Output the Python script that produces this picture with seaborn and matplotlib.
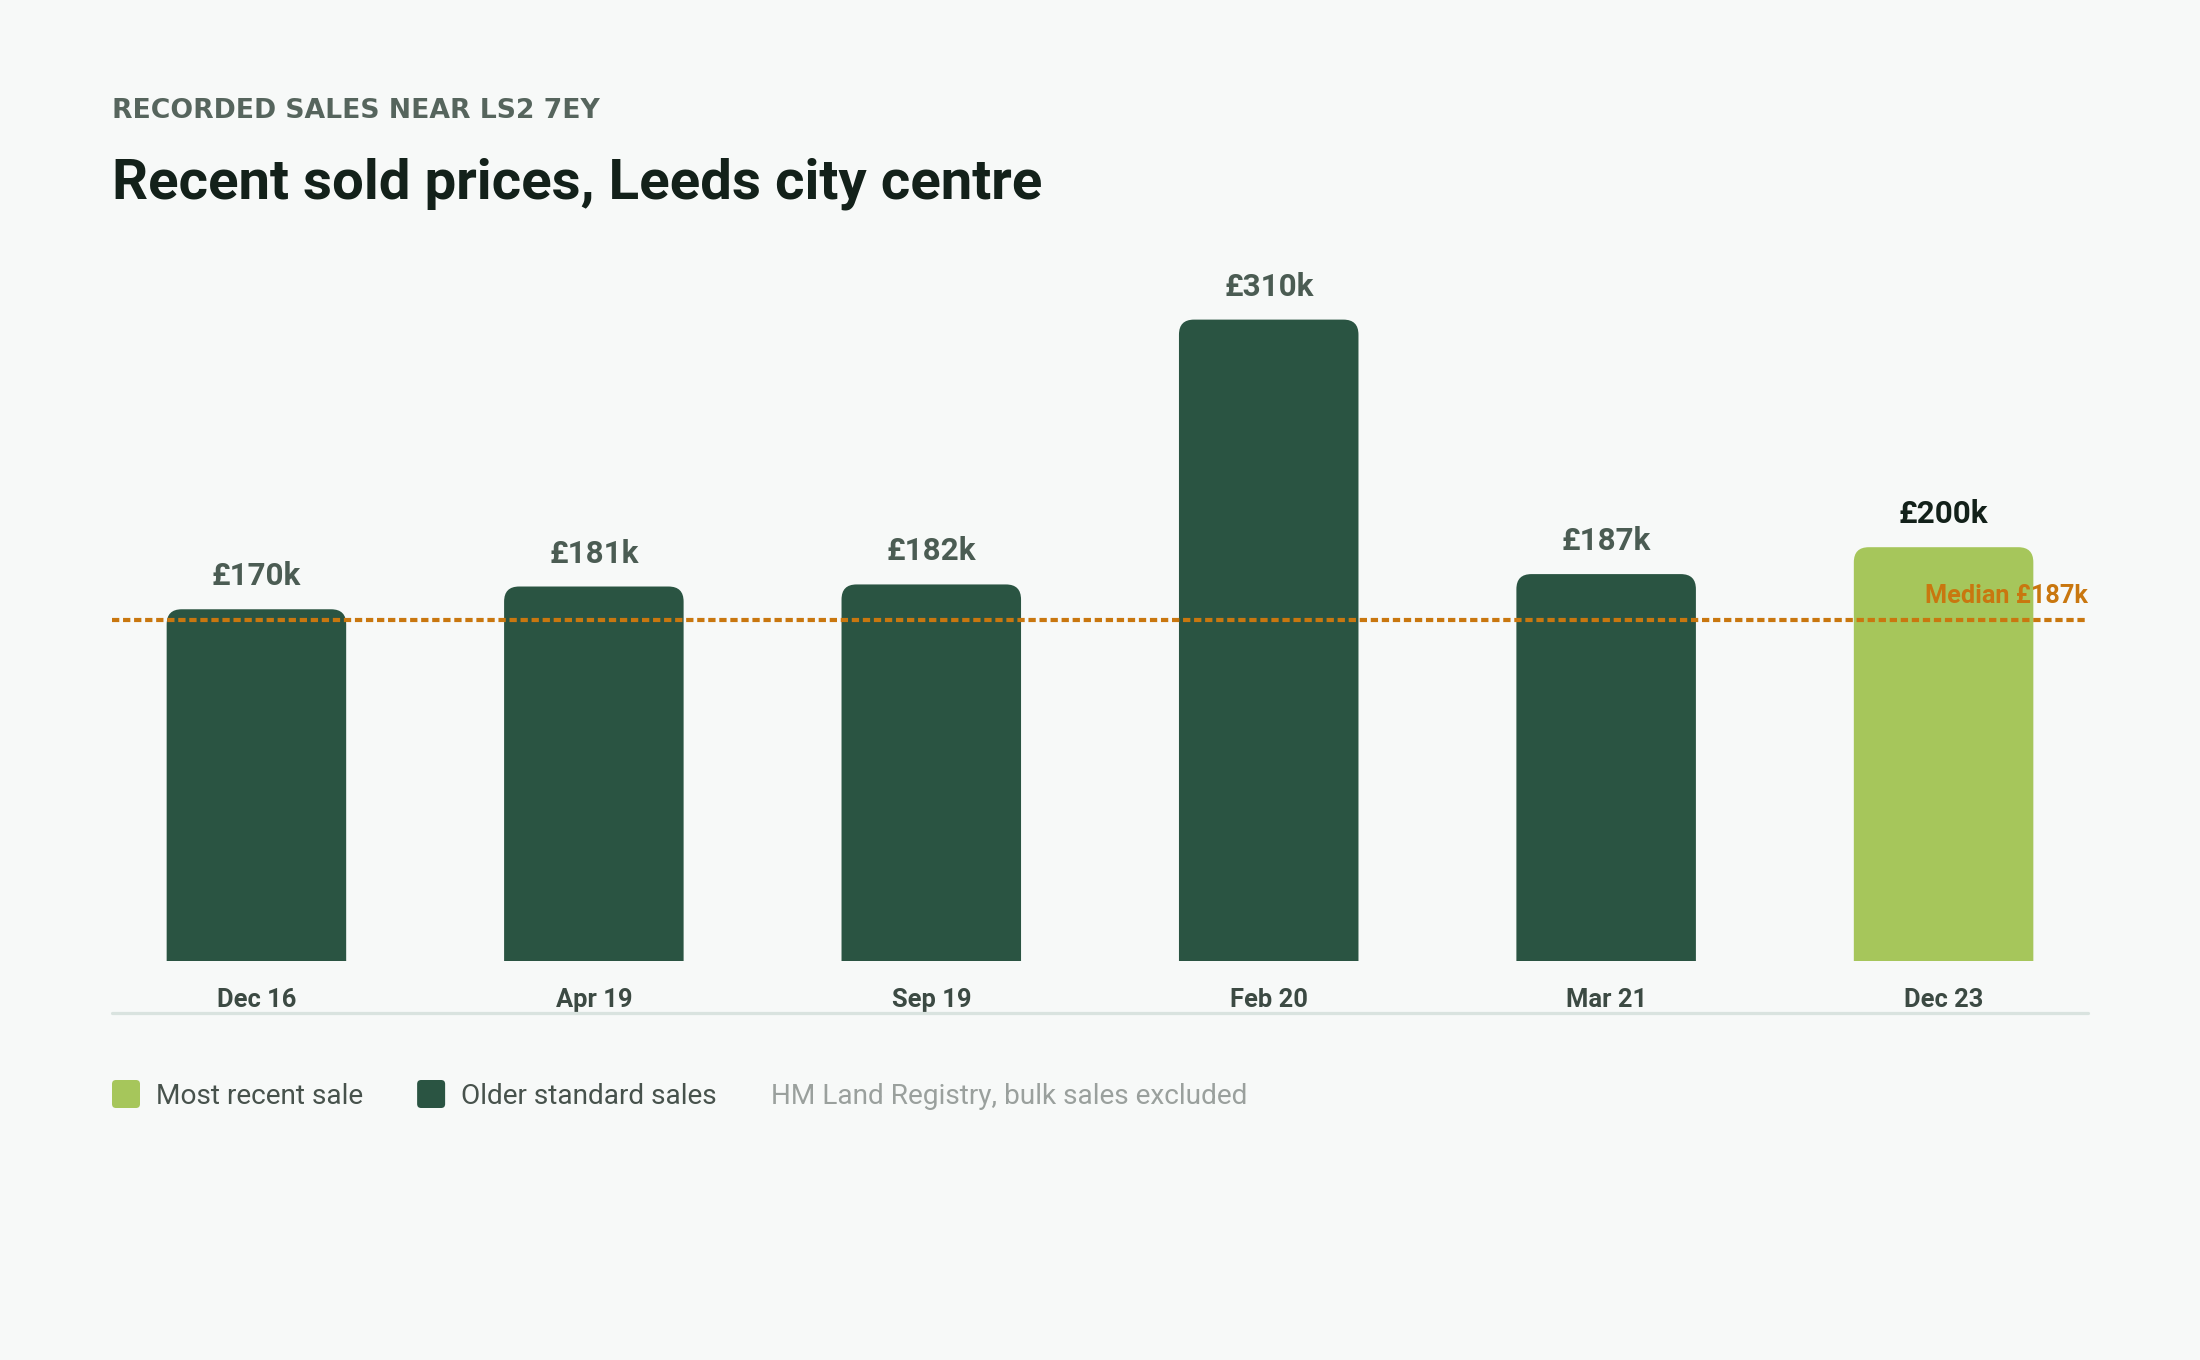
import numpy as np
import pandas as pd
import matplotlib
matplotlib.use("Agg")
import matplotlib.pyplot as plt
import seaborn as sns
from matplotlib.patches import FancyBboxPatch
from matplotlib.lines import Line2D

# ---------------- data ----------------
categories = ["Dec 16", "Apr 19", "Sep 19", "Feb 20", "Mar 21", "Dec 23"]
prices_k = [170, 181, 182, 310, 187, 200]
is_recent = [False, False, False, False, False, True]
value_labels = ["£170k", "£181k", "£182k", "£310k", "£187k", "£200k"]
median_line_k = 165          # height at which the dashed median line is drawn
median_label = "Median £187k"
subtitle = "RECORDED SALES NEAR LS2 7EY"
title = "Recent sold prices, Leeds city centre"
legend_labels = ["Most recent sale", "Older standard sales"]
source_note = "HM Land Registry, bulk sales excluded"

# ---------------- style ----------------
BG = "#f7f9f8"
DARK = "#2a5442"
LIGHT = "#a6c65b"
ORANGE = "#c9770f"
TITLE_C = "#13211a"
SUB_C = "#56655d"
VAL_C = "#4b5c53"
TICK_C = "#3c4a43"
LEG_C = "#47524c"
SRC_C = "#9aa09d"
RULE_C = "#d9e3df"

sns.set_theme(style="white")
plt.rcParams['font.family'] = ['Roboto', 'DejaVu Sans']
plt.rcParams['figure.facecolor'] = BG
plt.rcParams['axes.facecolor'] = BG

W, H, DPI = 2200, 1360, 200
fig = plt.figure(figsize=(W / DPI, H / DPI), dpi=DPI, facecolor=BG)


def fx(px):
    return px / W


def fy(py):
    return 1 - py / H


ax_left, ax_right = 112, 2088
base_y = 961
ymax = 330
px_per_k = 2.069
ax_top = base_y - ymax * px_per_k
ax = fig.add_axes([fx(ax_left), fy(base_y), (ax_right - ax_left) / W, (base_y - ax_top) / H])
ax.set_facecolor(BG)

df = pd.DataFrame({
    "month": categories,
    "price": prices_k,
    "group": [legend_labels[0] if r else legend_labels[1] for r in is_recent],
})
palette = {legend_labels[0]: LIGHT, legend_labels[1]: DARK}
sns.barplot(data=df, x="month", y="price", hue="group", order=categories,
            palette=palette, dodge=False, width=0.532, saturation=1,
            errorbar=None, legend=False, ax=ax)

ax.set_xlim(-0.428, len(categories) - 1 + 0.428)
ax.set_ylim(0, ymax)
for s in ax.spines.values():
    s.set_visible(False)
ax.set_yticks([])
ax.set_xlabel("")
ax.set_ylabel("")

fig.canvas.draw()
renderer = fig.canvas.get_renderer()

# rounded top corners
x_ppu = ax.transData.transform((1, 0))[0] - ax.transData.transform((0, 0))[0]
y_ppu = ax.transData.transform((0, 1))[1] - ax.transData.transform((0, 0))[1]
r_px = 15
rx = r_px / x_ppu
ry = r_px / y_ppu
for p in list(ax.patches):
    x0, w, h = p.get_x(), p.get_width(), p.get_height()
    fc = p.get_facecolor()
    p.remove()
    fb = FancyBboxPatch((x0, -2 * ry), w, h + 2 * ry,
                        boxstyle=f"round,pad=0,rounding_size={rx}",
                        mutation_aspect=ry / rx, fc=fc, ec="none", lw=0, zorder=1)
    ax.add_patch(fb)

# value labels
for i, (v, lab, rec) in enumerate(zip(prices_k, value_labels, is_recent)):
    ax.annotate(lab, xy=(i, v), xytext=(0, 24 * 72 / DPI), textcoords="offset points",
                ha="center", va="baseline", fontsize=11.3, fontweight="bold",
                color=TITLE_C if rec else VAL_C, zorder=5)

# median line + label
ax.axhline(median_line_k, color=ORANGE, lw=1.5, dashes=(1.75, 0.9), zorder=3)
ax.annotate(median_label, xy=(1, median_line_k), xycoords=("axes fraction", "data"),
            xytext=(0, 17 * 72 / DPI), textcoords="offset points", ha="right",
            va="baseline", fontsize=9.1, fontweight="semibold", color=ORANGE, zorder=4)

# x tick labels
ax.set_xticks(range(len(categories)))
ax.set_xticklabels(categories)
ax.tick_params(axis="x", length=0, pad=46 * 72 / DPI, labelsize=9.2, labelcolor=TICK_C)
for lbl in ax.get_xticklabels():
    lbl.set_va("baseline")
    lbl.set_fontweight("semibold")

# rule under the labels
fig.add_artist(Line2D([fx(ax_left), fx(ax_right)], [fy(1013), fy(1013)],
                      transform=fig.transFigure, color=RULE_C, lw=3.2 * 72 / DPI))

# subtitle + title
sub = fig.text(fx(112), fy(118), subtitle, fontsize=8.5, fontweight="bold",
               color=SUB_C, va="baseline", ha="left", family=["DejaVu Sans"])
w_sub = sub.get_window_extent(renderer).width
sub.set_fontsize(sub.get_fontsize() * 487 / w_sub)

ttl = fig.text(fx(112), fy(198), title, fontsize=21, fontweight="bold",
               color=TITLE_C, va="baseline", ha="left")
w_t = ttl.get_window_extent(renderer).width
ttl.set_fontsize(ttl.get_fontsize() * 932 / w_t)

# legend row
leg_base = 1104
sq = 28
x = 112
items = [(legend_labels[0], LIGHT), (legend_labels[1], DARK)]
for lab, col in items:
    box = FancyBboxPatch((fx(x), fy(leg_base + 4)), sq / W, sq / H,
                         boxstyle=f"round,pad=0,rounding_size={4 / W}",
                         mutation_aspect=W / H, transform=fig.transFigure,
                         fc=col, ec="none", lw=0)
    fig.add_artist(box)
    x += sq + 16
    t = fig.text(fx(x), fy(leg_base), lab, fontsize=10.1, color=LEG_C,
                 va="baseline", ha="left")
    x += t.get_window_extent(renderer).width + 54
fig.text(fx(x), fy(leg_base), source_note, fontsize=10.1, color=SRC_C,
         va="baseline", ha="left")

fig.savefig("out.png", dpi=DPI, facecolor=BG)
